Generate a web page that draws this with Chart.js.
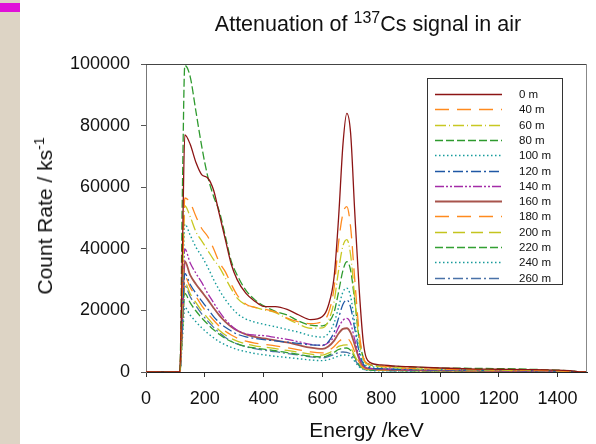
<!DOCTYPE html>
<html lang="en">
<head>
  <meta charset="UTF-8" />
  <title>Attenuation of 137Cs signal in air</title>
  <script src="https://cdn.jsdelivr.net/npm/chart.js"></script>
  <style>
    body {
      margin: 0;
      background: #fff;
      font-family: "Liberation Sans", Arial, sans-serif;
      color: #111;
    }
    #wrap {
      position: relative;
      width: 596px;
      height: 444px;
      overflow: hidden;
    }
    #strip {
      position: absolute;
      left: 0;
      top: 0;
      width: 20px;
      height: 444px;
      background: #ddd4c5;
    }
    #mark {
      position: absolute;
      left: 0;
      top: 3px;
      width: 20px;
      height: 9px;
      background: #e010d8;
    }
    #title {
      position: absolute;
      left: 368px;
      top: 14px;
      transform: translateX(-50%);
      font-size: 21.5px;
      line-height: 21.5px;
      white-space: nowrap;
    }
    #ytitle {
      position: absolute;
      left: 46px;
      top: 216px;
      transform: translate(-50%, -50%) rotate(-90deg);
      font-size: 21px;
      line-height: 21px;
      white-space: nowrap;
    }
    .sup {
      position: relative;
      top: -8px;
      font-size: 16px;
    }
    #ytitle .sup {
      top: -8px;
      font-size: 14px;
    }
    canvas {
      position: absolute;
      left: 0;
      top: 0;
    }
  </style>
</head>
<body>
  <div id="wrap">
    <div id="strip"></div>
    <div id="mark"></div>
    <canvas id="chart" width="596" height="444"></canvas>
    <div id="title">Attenuation of <span class="sup">137</span>Cs signal in air</div>
    <div id="ytitle">Count Rate / ks<span class="sup">-1</span></div>
  </div>

  <script>
    // energy grid (keV), shared by every spectrum
    const energy = [0, 115, 124, 132, 150, 170, 190, 210, 230, 250, 270, 290, 310, 340, 370, 400, 440, 480, 520, 560,
      600, 620, 640, 655, 670, 683, 696, 710, 725, 740, 760, 800, 850, 900, 1000, 1100, 1200, 1300, 1400, 1450, 1480, 1500];

    // count rate (ks^-1)
    const rate0m = [0, 0, 40000, 77000, 74000, 68000, 64000, 63000, 59000, 51000, 43000, 35000, 30000, 25500, 23000, 21300, 21200, 20300, 18500, 17000,
      18000, 21500, 31000, 50000, 74000, 84000, 77500, 52000, 27000, 9000, 3200, 2300, 1900, 1700, 1300, 1000, 900, 800, 600, 350, 0, 0];
    const rate40m = [0, 0, 30000, 56500, 55000, 50500, 46500, 44000, 40000, 35500, 32500, 28500, 25000, 22000, 21000, 20500, 19500, 17500, 16300, 15700,
      16500, 19000, 27500, 42000, 51500, 53700, 47000, 30000, 13000, 4500, 2500, 1900, 1500, 1200, 900, 800, 700, 600, 400, 200, 0, 0];
    const rate60m = [0, 0, 28000, 54000, 50500, 45500, 42500, 39500, 36500, 34000, 30500, 27000, 24000, 21800, 21000, 20200, 19300, 17300, 15500, 14200,
      14300, 16500, 23000, 33000, 41000, 43000, 38000, 24000, 10000, 4000, 2200, 1700, 1400, 1100, 900, 700, 600, 500, 400, 200, 0, 0];
    const rate80m = [0, 0, 60000, 99500, 96000, 84500, 73000, 63500, 57000, 52000, 44000, 36000, 31500, 26500, 23500, 21500, 19700, 18500, 16500, 15200,
      15000, 16000, 19500, 26000, 33000, 35800, 33000, 23000, 11000, 4500, 2500, 1900, 1800, 1600, 1300, 1200, 1100, 900, 600, 300, 0, 0];
    const rate100m = [0, 0, 25000, 48000, 44500, 40500, 37500, 34000, 30000, 26500, 23500, 21000, 19000, 17200, 16200, 15500, 14700, 13800, 12900, 11800,
      11300, 12500, 16000, 21000, 26000, 27200, 24500, 16000, 7500, 3000, 1800, 1500, 1200, 1000, 800, 700, 600, 500, 400, 200, 0, 0];
    const rate120m = [0, 0, 17000, 32000, 28500, 25500, 23000, 20500, 18000, 16000, 14500, 13300, 12300, 11400, 10900, 10500, 10100, 9700, 9300, 8800,
      8700, 9800, 13000, 17500, 22000, 23400, 21000, 14000, 6500, 2500, 1400, 1100, 900, 800, 700, 600, 500, 400, 300, 150, 0, 0];
    const rate140m = [0, 0, 21000, 40000, 35500, 32000, 29000, 25500, 22500, 19500, 17000, 15000, 13500, 12400, 12000, 11800, 11200, 10600, 9800, 9000,
      8600, 9500, 11500, 14500, 16800, 17400, 15800, 10500, 5000, 2000, 1200, 1000, 800, 700, 600, 500, 400, 350, 250, 100, 0, 0];
    const rate160m = [0, 0, 19000, 36000, 31500, 28500, 26000, 23500, 20800, 18300, 16300, 14700, 13500, 12200, 11400, 10900, 10300, 9600, 8700, 7900,
      7500, 8300, 10200, 12500, 14000, 14200, 12800, 8800, 4300, 1800, 1100, 900, 700, 600, 500, 450, 400, 300, 200, 100, 0, 0];
    const rate180m = [0, 0, 16000, 31000, 27500, 24500, 21500, 19000, 16800, 14800, 13200, 12000, 11000, 10000, 9400, 9000, 8500, 7900, 7200, 6500,
      6200, 6900, 8300, 9800, 10800, 10900, 9700, 6500, 3200, 1400, 900, 700, 600, 500, 450, 400, 350, 300, 200, 100, 0, 0];
    const rate200m = [0, 0, 15000, 29000, 25500, 22500, 19800, 17500, 15300, 13500, 12000, 10900, 10000, 9100, 8500, 8100, 7600, 7000, 6400, 5800,
      5500, 6100, 7200, 8300, 8700, 8800, 7900, 5300, 2600, 1200, 800, 600, 500, 450, 400, 350, 300, 250, 200, 100, 0, 0];
    const rate220m = [0, 0, 13000, 25500, 22500, 19800, 17500, 15500, 13700, 12200, 10900, 9900, 9100, 8300, 7800, 7400, 6900, 6300, 5700, 5100,
      4900, 5400, 6400, 7300, 7700, 7800, 7000, 4700, 2300, 1100, 700, 500, 450, 400, 350, 300, 250, 200, 150, 100, 0, 0];
    const rate240m = [0, 0, 11000, 21000, 18500, 16300, 14300, 12600, 11100, 9800, 8800, 8000, 7300, 6600, 6000, 5600, 5100, 4700, 4300, 3900,
      3700, 4000, 4600, 5200, 5500, 5500, 5000, 3400, 1700, 800, 500, 400, 350, 300, 250, 200, 200, 150, 100, 50, 0, 0];
    const rate260m = [0, 0, 14500, 28000, 24500, 21500, 18800, 16500, 14500, 12700, 11200, 10000, 9100, 8200, 7600, 7100, 6600, 6000, 5500, 4900,
      4600, 5000, 5700, 6300, 6500, 6400, 5800, 4000, 2000, 900, 600, 500, 400, 350, 300, 250, 200, 150, 100, 50, 0, 0];

    const distances = ['0 m', '40 m', '60 m', '80 m', '100 m', '120 m', '140 m', '160 m', '180 m', '200 m', '220 m', '240 m', '260 m'];
    const spectra = [rate0m, rate40m, rate60m, rate80m, rate100m, rate120m, rate140m, rate160m, rate180m, rate200m, rate220m, rate240m, rate260m];

    const xTicks = [0, 200, 400, 600, 800, 1000, 1200, 1400];
    const yTicks = [0, 20000, 40000, 60000, 80000, 100000];

    // line styles, one per distance
    const styles = [
      { color: '#8c1414', dash: [], width: 1.3 },
      { color: '#ff8a1e', dash: [14, 8], width: 1.3 },
      { color: '#c8c822', dash: [11, 3, 1, 3], width: 1.3 },
      { color: '#2e9a2e', dash: [8, 3], width: 1.3 },
      { color: '#169c9c', dash: [1.5, 2.5], width: 1.4 },
      { color: '#1f57a5', dash: [10, 3, 2, 3], width: 1.3 },
      { color: '#a42ca8', dash: [9, 2, 2, 2, 2, 2], width: 1.3 },
      { color: '#a8544c', dash: [], width: 1.8 },
      { color: '#ff8a1e', dash: [14, 8], width: 1.3 },
      { color: '#c4c41e', dash: [12, 6], width: 1.3 },
      { color: '#33a033', dash: [8, 3], width: 1.3 },
      { color: '#179a9a', dash: [1.5, 2.5], width: 1.4 },
      { color: '#4a72a8', dash: [10, 3, 2, 3], width: 1.3 }
    ];

    Chart.defaults.font.family = '"Liberation Sans", Arial, sans-serif';
    Chart.defaults.color = '#111';

    const datasets = spectra.map((vals, i) => ({
      label: distances[i],
      data: energy.map((e, j) => ({ x: e, y: vals[j] })),
      borderColor: styles[i].color,
      borderDash: styles[i].dash,
      borderWidth: styles[i].width,
      pointRadius: 0,
      fill: false,
      cubicInterpolationMode: 'monotone'
    }));

    // legend box inside the plot + top/right frame lines
    const boxLegend = {
      id: 'boxLegend',
      afterDraw(chart) {
        const { ctx, chartArea } = chart;
        ctx.save();
        ctx.strokeStyle = '#444';
        ctx.lineWidth = 1;
        ctx.beginPath();
        ctx.moveTo(chartArea.left, chartArea.top + 0.5);
        ctx.lineTo(chartArea.right, chartArea.top + 0.5);
        ctx.stroke();
        ctx.strokeStyle = '#888';
        ctx.beginPath();
        ctx.moveTo(chartArea.right - 0.5, chartArea.top);
        ctx.lineTo(chartArea.right - 0.5, chartArea.bottom);
        ctx.stroke();

        const left = chartArea.right - 160;
        const top = chartArea.top + 14;
        ctx.fillStyle = '#fff';
        ctx.fillRect(left, top, 135, 206);
        ctx.strokeStyle = '#333';
        ctx.strokeRect(left + 0.5, top + 0.5, 135, 206);
        ctx.font = '11.5px "Liberation Sans", Arial, sans-serif';
        ctx.textBaseline = 'middle';
        chart.data.datasets.forEach((ds, i) => {
          const y = Math.round(top + 16 + i * 15.3) + 0.5;
          ctx.beginPath();
          ctx.setLineDash(ds.borderDash);
          ctx.strokeStyle = ds.borderColor;
          ctx.lineWidth = ds.borderWidth;
          ctx.moveTo(left + 8, y);
          ctx.lineTo(left + 75, y);
          ctx.stroke();
          ctx.setLineDash([]);
          ctx.fillStyle = '#111';
          ctx.fillText(ds.label, left + 92, y);
        });
        ctx.restore();
      }
    };

    new Chart(document.getElementById('chart'), {
      type: 'line',
      data: { datasets: datasets },
      options: {
        responsive: false,
        animation: false,
        layout: { padding: { top: 64, right: 9, left: 0, bottom: 0 } },
        plugins: {
          legend: { display: false },
          tooltip: { enabled: false }
        },
        scales: {
          x: {
            type: 'linear',
            min: 0,
            max: 1500,
            afterFit: s => { s.height = 72; },
            afterBuildTicks: s => { s.ticks = xTicks.map(v => ({ value: v })); },
            ticks: { padding: 11, color: '#111', font: { size: 18 }, maxRotation: 0, callback: v => String(v) },
            grid: { drawOnChartArea: false, tickLength: 5, color: '#333' },
            border: { color: '#222' },
            title: { display: true, text: 'Energy /keV', color: '#111', font: { size: 21 }, padding: { top: 0, bottom: 0 } }
          },
          y: {
            min: 0,
            max: 100000,
            afterFit: s => { s.width = 146; },
            afterBuildTicks: s => { s.ticks = yTicks.map(v => ({ value: v })); },
            ticks: { padding: 11, color: '#111', font: { size: 18 }, callback: v => String(v) },
            grid: { drawOnChartArea: false, tickLength: 5, color: '#555' },
            border: { color: '#777' }
          }
        }
      },
      plugins: [boxLegend]
    });
  </script>
</body>
</html>
